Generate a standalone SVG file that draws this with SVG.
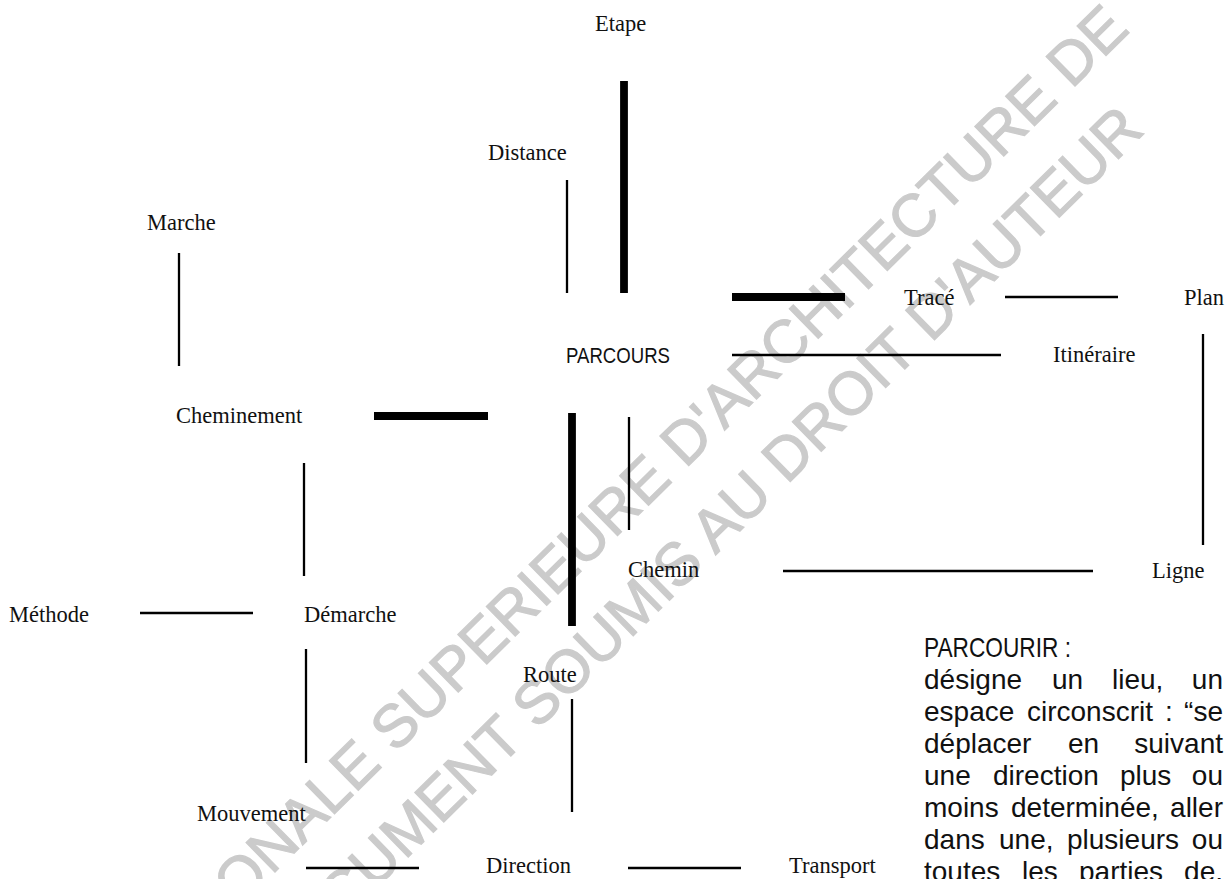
<svg xmlns="http://www.w3.org/2000/svg" width="1230" height="879" viewBox="0 0 1230 879">
  <style>
    .lbl { font-family: "Liberation Serif", "Times New Roman", serif; font-size: 22.5px; fill: #111; }
    .sans { font-family: "Liberation Sans", Arial, sans-serif; fill: #111; }
    .wm { font-family: "Liberation Sans", Arial, sans-serif; font-size: 60px; fill: #cbcbcb; stroke: #cbcbcb; stroke-width: 1.2; }
    .thin { stroke: #000; stroke-width: 2.3; fill: none; }
    .thick { stroke: #000; stroke-width: 7.8; fill: none; }
  </style>
  <rect width="1230" height="879" fill="#fff"/>

  <g id="watermark">
    <text class="wm" text-anchor="end" transform="translate(1131,31) rotate(-44.5)">ECOLE NATIONALE SUPERIEURE D'ARCHITECTURE DE</text>
    <text class="wm" text-anchor="end" transform="translate(1146,132) rotate(-44.5)">DOCUMENT SOUMIS AU DROIT D'AUTEUR</text>
  </g>

  <g id="connectors">
    <line class="thick" x1="624" y1="81" x2="624" y2="293"/>
    <line class="thin" x1="567" y1="180" x2="567" y2="293"/>
    <line class="thin" x1="179" y1="253" x2="179" y2="366"/>
    <line class="thick" x1="374" y1="416" x2="488" y2="416"/>
    <line class="thick" x1="732" y1="297" x2="845" y2="297"/>
    <line class="thin" x1="1005" y1="297" x2="1118" y2="297"/>
    <line class="thin" x1="732" y1="355" x2="1001" y2="355"/>
    <line class="thin" x1="1203" y1="334" x2="1203" y2="545"/>
    <line class="thick" x1="572" y1="413" x2="572" y2="626"/>
    <line class="thin" x1="629" y1="417" x2="629" y2="530"/>
    <line class="thin" x1="783" y1="571" x2="1093" y2="571"/>
    <line class="thin" x1="304" y1="463" x2="304" y2="576"/>
    <line class="thin" x1="140" y1="613" x2="253" y2="613"/>
    <line class="thin" x1="306" y1="649" x2="306" y2="763"/>
    <line class="thin" x1="572" y1="699" x2="572" y2="812"/>
    <line class="thin" x1="306" y1="868" x2="419" y2="868"/>
    <line class="thin" x1="628" y1="868" x2="741" y2="868"/>
  </g>

  <g id="node-parcours"><text class="sans" x="566" y="363" font-size="22" textLength="104" lengthAdjust="spacingAndGlyphs">PARCOURS</text></g>
  <g id="node-etape"><text class="lbl" x="595" y="31">Etape</text></g>
  <g id="node-distance"><text class="lbl" x="488" y="160">Distance</text></g>
  <g id="node-marche"><text class="lbl" x="147" y="230">Marche</text></g>
  <g id="node-cheminement"><text class="lbl" x="176" y="423">Cheminement</text></g>
  <g id="node-trace"><text class="lbl" x="904" y="305">Tracé</text></g>
  <g id="node-plan"><text class="lbl" x="1184" y="305">Plan</text></g>
  <g id="node-itineraire"><text class="lbl" x="1053" y="362">Itinéraire</text></g>
  <g id="node-chemin"><text class="lbl" x="628" y="577">Chemin</text></g>
  <g id="node-ligne"><text class="lbl" x="1152" y="578">Ligne</text></g>
  <g id="node-methode"><text class="lbl" x="9" y="622">Méthode</text></g>
  <g id="node-demarche"><text class="lbl" x="304" y="622">Démarche</text></g>
  <g id="node-route"><text class="lbl" x="523" y="682">Route</text></g>
  <g id="node-mouvement"><text class="lbl" x="197" y="821">Mouvement</text></g>
  <g id="node-direction"><text class="lbl" x="486" y="873">Direction</text></g>
  <g id="node-transport"><text class="lbl" x="789" y="873">Transport</text></g>

  <g id="definition" class="sans" font-size="28">
    <text x="924" y="657" textLength="147" lengthAdjust="spacingAndGlyphs">PARCOURIR :</text>
    <text y="689"><tspan x="924">désigne</tspan><tspan x="1052">un</tspan><tspan x="1112">lieu,</tspan><tspan x="1223" text-anchor="end">un</tspan></text>
    <text y="721"><tspan x="924">espace</tspan><tspan x="1027">circonscrit</tspan><tspan x="1165">:</tspan><tspan x="1223" text-anchor="end">“se</tspan></text>
    <text y="753"><tspan x="924">déplacer</tspan><tspan x="1068">en</tspan><tspan x="1223" text-anchor="end">suivant</tspan></text>
    <text y="785"><tspan x="924">une</tspan><tspan x="993">direction</tspan><tspan x="1120">plus</tspan><tspan x="1223" text-anchor="end">ou</tspan></text>
    <text y="817"><tspan x="924">moins</tspan><tspan x="1011">determinée,</tspan><tspan x="1223" text-anchor="end">aller</tspan></text>
    <text y="849"><tspan x="924">dans</tspan><tspan x="999">une,</tspan><tspan x="1067">plusieurs</tspan><tspan x="1223" text-anchor="end">ou</tspan></text>
    <text y="881"><tspan x="924">toutes</tspan><tspan x="1022">les</tspan><tspan x="1079">parties</tspan><tspan x="1223" text-anchor="end">de,</tspan></text>
  </g>
</svg>
